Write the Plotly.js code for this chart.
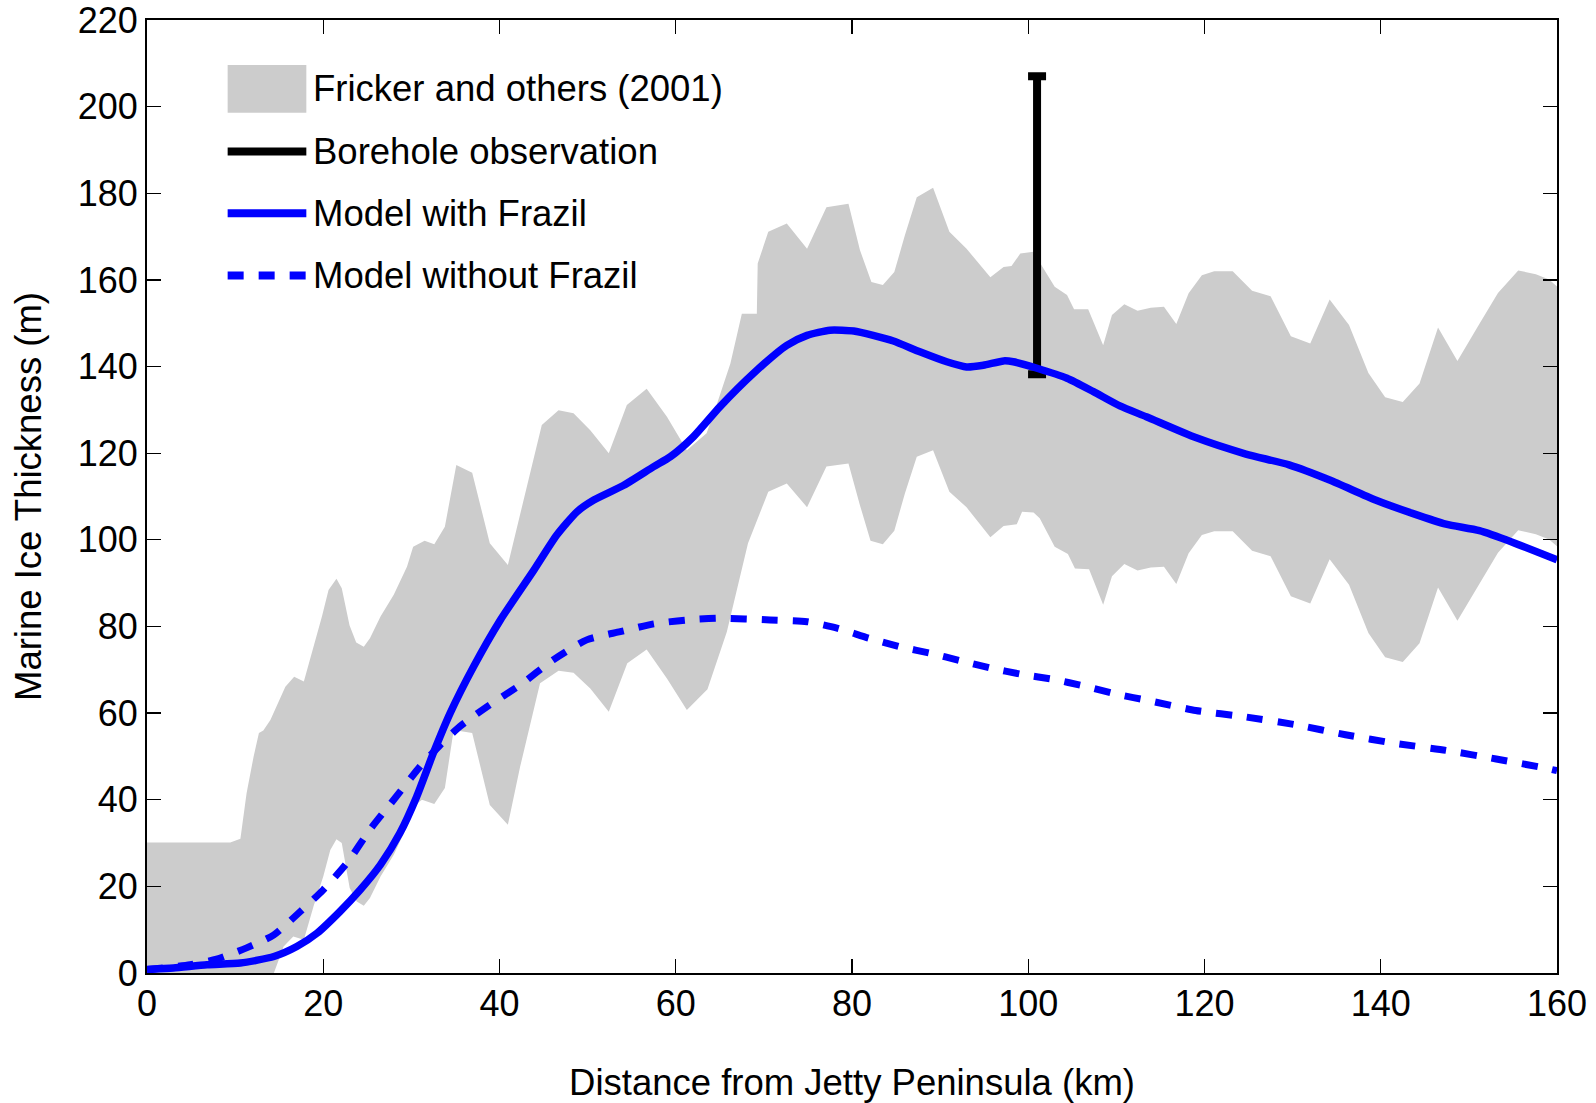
<!DOCTYPE html>
<html>
<head>
<meta charset="utf-8">
<script src="https://cdn.plot.ly/plotly-3.0.1.min.js"></script>
<style>
  html, body { margin: 0; padding: 0; background: #ffffff; }
  #chart { width: 1596px; height: 1103px; }
</style>
</head>
<body>
<div id="chart"></div>
<script>
// ---- Data ----
// Fricker and others (2001): upper edge of band
var frickerUpperKm = [0, 9.45, 10.6, 11.3, 12.1, 12.7, 13.2, 14.0, 15.7, 16.7, 17.8, 18.9, 19.85, 20.6, 21.5, 22.1, 22.98, 23.74, 24.6, 25.3, 26.5, 28.0, 29.5, 30.2, 31.5, 32.6, 33.8, 35.1, 36.9, 38.9, 40.95, 44.8, 46.7, 48.4, 50.3, 52.4, 54.45, 56.7, 59.0, 61.26, 63.5, 64.7, 66.2, 67.5, 69.2, 69.3, 70.5, 72.6, 74.9, 77.1, 79.6, 80.9, 82.2, 83.5, 84.8, 86.0, 87.35, 89.2, 91.05, 93.0, 95.7, 97.2, 98.1, 99.1, 100.6, 101.5, 103.0, 104.4, 105.2, 106.8, 108.5, 109.5, 110.9, 112.4, 113.9, 115.4, 116.8, 118.2, 119.7, 121.1, 123.2, 125.4, 127.5, 129.8, 132.0, 134.2, 136.4, 138.6, 140.5, 142.5, 144.4, 146.5, 148.7, 151.0, 153.3, 155.6, 157.6, 159.1, 160];
var frickerUpperM = [30.1, 30.1, 31, 41.5, 50, 55.4, 56, 58.4, 66.1, 68.4, 67.3, 75.3, 82.3, 88.4, 91, 88.8, 80.3, 76.3, 75.3, 77.3, 82.3, 87.3, 93.8, 98.4, 99.8, 99, 103, 117.3, 115.5, 99.2, 94.2, 126.5, 129.9, 129.2, 125.3, 120, 131.1, 134.9, 128.4, 120.7, 124.6, 131.5, 140.7, 152.2, 152.2, 163.8, 171.1, 173.0, 167.2, 176.8, 177.6, 166.9, 159.5, 158.8, 161.8, 170.3, 179.1, 181.3, 171.1, 167.2, 160.6, 163.0, 163.2, 166.1, 166.5, 163.4, 158.4, 156.5, 153.2, 153.2, 144.9, 151.9, 154.4, 152.9, 153.6, 153.8, 149.8, 156.9, 161.1, 162.0, 162.0, 157.5, 156.2, 147.0, 145.3, 155.5, 149.6, 138.5, 132.9, 131.8, 136.1, 149.0, 141.3, 149.2, 157.0, 162.2, 161.3, 160.1, 158.5];
// Fricker and others (2001): lower edge of band
var frickerLowerKm = [0, 14.4, 15.5, 16.6, 17.8, 18.9, 20.0, 20.8, 21.5, 22.1, 23.0, 23.8, 24.6, 25.3, 26.5, 28.0, 29.5, 30.2, 31.2, 32.6, 33.8, 34.8, 36.9, 38.9, 40.95, 42.35, 44.6, 46.7, 48.4, 50.3, 52.4, 54.5, 56.7, 59.0, 61.26, 63.6, 65.8, 68.2, 70.5, 72.6, 74.9, 77.1, 79.6, 80.9, 82.1, 83.5, 84.8, 86.0, 87.35, 89.2, 91.05, 93.0, 95.7, 97.2, 98.7, 99.3, 100.6, 101.3, 103.0, 104.5, 105.3, 106.9, 108.5, 109.5, 110.9, 112.4, 113.9, 115.4, 116.8, 118.2, 119.7, 121.1, 123.2, 125.4, 127.5, 129.8, 132.0, 134.2, 136.4, 138.6, 140.5, 142.5, 144.4, 146.5, 148.7, 151.0, 153.3, 155.6, 157.6, 159.1, 160];
var frickerLowerM = [0, 0, 6.1, 8.4, 7.7, 15.4, 22.3, 28.4, 30.9, 30.0, 19.6, 16.5, 15.5, 17.3, 22.3, 27.3, 33.8, 38.4, 40, 39, 42.7, 56.1, 55.4, 38.8, 34.2, 47.7, 66.9, 69.8, 69.3, 65.7, 60.3, 71.5, 74.7, 68.0, 60.7, 65.5, 78.8, 99.2, 111.1, 113.0, 107.5, 116.9, 117.6, 108.0, 99.8, 99.0, 102.1, 110.7, 119.2, 120.7, 111.1, 107.5, 100.6, 103.2, 103.6, 106.5, 106.3, 105.0, 98.4, 96.7, 93.4, 93.2, 85.0, 91.6, 94.4, 92.9, 93.6, 93.8, 89.8, 96.9, 101.1, 102.0, 102.0, 97.5, 96.2, 87.0, 85.3, 95.5, 89.6, 78.5, 72.9, 71.8, 76.1, 89.0, 81.3, 89.2, 97.0, 102.2, 101.3, 100.1, 98.5];

// Borehole observation
var boreholeKm = [101];
var boreholeLowM = [138.2];
var boreholeHighM = [207.0];

// Model with Frazil
var frazilKm = [0, 3.0, 6.8, 10.6, 14.4, 17.0, 19.3, 21.9, 24.2, 26.5, 28.7, 30.6, 32.5, 34.4, 37.05, 40.1, 43.9, 46.5, 48.8, 50.7, 54.1, 57.5, 59.4, 62.0, 65.0, 68.8, 72.6, 74.9, 77.5, 80.2, 82.4, 84.7, 87.7, 90.75, 93.0, 94.9, 97.2, 98.3, 101.0, 104.4, 107.4, 110.4, 113.4, 119.0, 124.7, 129.6, 134.2, 139.4, 143.6, 147.4, 151.2, 155.0, 160];
var frazilM = [0.8, 1.15, 1.9, 2.3, 3.8, 6.1, 9.2, 14.2, 19.2, 25.0, 32.3, 40.7, 50.8, 60.0, 70.7, 81.5, 93.0, 101.1, 106.5, 109.2, 112.6, 116.9, 119.2, 123.8, 130.7, 138.4, 144.9, 147.2, 148.4, 148.2, 147.2, 145.9, 143.4, 141.1, 139.9, 140.3, 141.3, 141.1, 139.6, 137.3, 134.2, 130.9, 128.4, 123.6, 119.8, 117.3, 113.8, 109.2, 106.1, 103.6, 102.1, 99.4, 95.4];

// Model without Frazil
var noFrazilKm = [0, 4.9, 7.9, 11.3, 14.4, 17.4, 20.0, 22.7, 25.3, 28.0, 31.0, 33.3, 35.5, 38.6, 42.35, 46.1, 49.9, 53.7, 57.5, 61.3, 65.0, 70.7, 74.9, 78.3, 81.9, 85.5, 88.9, 92.3, 95.7, 99.1, 102.8, 106.25, 110.4, 113.4, 119.0, 124.7, 130.4, 136.0, 141.7, 147.4, 153.1, 158.7, 160];
var noFrazilM = [0.8, 1.9, 3.2, 5.8, 8.8, 14.2, 19.2, 25.4, 33.1, 40.0, 47.7, 52.7, 56.9, 61.5, 66.5, 72.3, 76.9, 78.8, 80.6, 81.5, 81.9, 81.5, 81.1, 79.6, 77.3, 75.3, 73.8, 72.1, 70.4, 69.0, 67.8, 66.3, 64.2, 63.0, 60.6, 59.1, 57.3, 55.0, 53.0, 51.4, 49.4, 47.3, 46.7];

// Axis ticks and labels
var xTicks = [0, 20, 40, 60, 80, 100, 120, 140, 160];
var yTicks = [0, 20, 40, 60, 80, 100, 120, 140, 160, 180, 200, 220];
var legendLabels = ["Fricker and others (2001)", "Borehole observation", "Model with Frazil", "Model without Frazil"];
var xTitle = "Distance from Jetty Peninsula (km)";
var yTitle = "Marine Ice Thickness (m)";

// ---- Build traces ----
var FONT = "'Liberation Sans', Arial, Helvetica, sans-serif";
var FS = 36.5;
var BLUE = "#0000ff";
var GRAY = "#cccccc";

var bandX = frickerUpperKm.concat(frickerLowerKm.slice().reverse());
var bandY = frickerUpperM.concat(frickerLowerM.slice().reverse());

var boreMid = boreholeKm.map(function (_, i) { return (boreholeLowM[i] + boreholeHighM[i]) / 2; });
var borePlus = boreMid.map(function (m, i) { return boreholeHighM[i] - m; });
var boreMinus = boreMid.map(function (m, i) { return m - boreholeLowM[i]; });

var traces = [
  {
    type: "scatter", mode: "lines", x: bandX, y: bandY,
    fill: "toself", fillcolor: GRAY, line: { width: 0, color: GRAY },
    hoverinfo: "skip", showlegend: false, name: legendLabels[0]
  },
  {
    type: "scatter", mode: "markers", x: boreholeKm, y: boreMid,
    marker: { size: 1, opacity: 0, color: "#000" },
    error_y: { type: "data", symmetric: false, array: borePlus, arrayminus: boreMinus,
               color: "#000000", thickness: 8, width: 9 },
    showlegend: false, name: legendLabels[1]
  },
  {
    type: "scatter", mode: "lines", x: noFrazilKm, y: noFrazilM,
    line: { color: BLUE, width: 7, dash: "16px,15px", shape: "spline", smoothing: 0.6 },
    showlegend: false, name: legendLabels[3]
  },
  {
    type: "scatter", mode: "lines", x: frazilKm, y: frazilM,
    line: { color: BLUE, width: 7.5, shape: "spline", smoothing: 0.6 },
    showlegend: false, name: legendLabels[2]
  }
];

// ---- Hand-drawn legend (paper coordinates) ----
var lgX0 = 0.0572, lgX1 = 0.1130, lgTextX = 0.1164;
var lgRows = [0.9276, 0.8619, 0.7972, 0.7318];
var shapes = [
  { type: "rect", xref: "paper", yref: "paper", x0: lgX0, x1: lgX1, y0: 0.9028, y1: 0.9528,
    fillcolor: GRAY, line: { width: 0 } },
  { type: "line", xref: "paper", yref: "paper", x0: lgX0, x1: lgX1, y0: lgRows[1], y1: lgRows[1],
    line: { color: "#000000", width: 8 } },
  { type: "line", xref: "paper", yref: "paper", x0: lgX0, x1: lgX1, y0: lgRows[2], y1: lgRows[2],
    line: { color: BLUE, width: 8 } },
  { type: "line", xref: "paper", yref: "paper", x0: lgX0, x1: lgX1, y0: lgRows[3], y1: lgRows[3],
    line: { color: BLUE, width: 8, dash: "16px,15px" } }
];
var annotations = legendLabels.map(function (t, i) {
  return { xref: "paper", yref: "paper", x: lgTextX, y: lgRows[i], text: t,
           showarrow: false, xanchor: "left", yanchor: "middle",
           font: { family: FONT, size: FS, color: "#000" } };
});

var layout = {
  width: 1596, height: 1103,
  margin: { l: 147, r: 39, t: 20, b: 130, pad: 0 },
  paper_bgcolor: "#ffffff", plot_bgcolor: "#ffffff",
  font: { family: FONT, size: FS, color: "#000000" },
  showlegend: false,
  xaxis: {
    range: [0, 160], tickmode: "array", tickvals: xTicks, ticktext: xTicks.map(String),
    ticks: "inside", ticklen: 14, tickwidth: 1.3, tickcolor: "#000",
    showline: true, linewidth: 2, linecolor: "#000", mirror: "ticks",
    showgrid: false, zeroline: false, ticklabelstandoff: -2, ticklabeloverflow: "allow",
    tickfont: { family: FONT, size: 36, color: "#000" },
    title: { text: xTitle, font: { family: FONT, size: FS, color: "#000" }, standoff: 48 }
  },
  yaxis: {
    range: [0, 220], tickmode: "array", tickvals: yTicks, ticktext: yTicks.map(String),
    ticks: "inside", ticklen: 14, tickwidth: 1.3, tickcolor: "#000",
    showline: true, linewidth: 2, linecolor: "#000", mirror: "ticks",
    showgrid: false, zeroline: false, ticklabelstandoff: 0, ticklabeloverflow: "allow",
    tickfont: { family: FONT, size: 36, color: "#000" },
    title: { text: yTitle, font: { family: FONT, size: FS, color: "#000" }, standoff: 25 }
  },
  shapes: shapes,
  annotations: annotations
};

Plotly.newPlot("chart", traces, layout, { staticPlot: true, displayModeBar: false });
</script>
</body>
</html>
